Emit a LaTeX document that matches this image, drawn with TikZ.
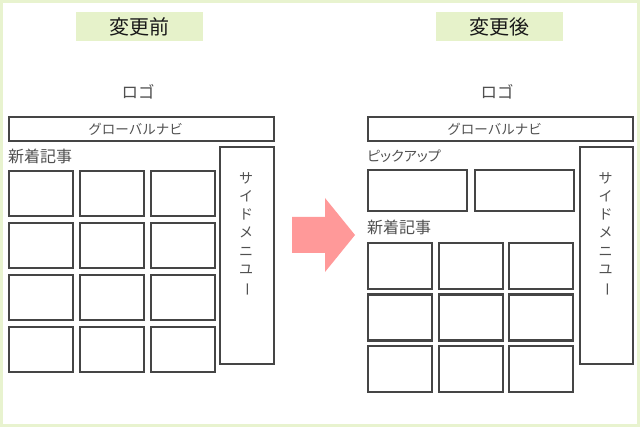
\documentclass[tikz,border=0pt]{standalone}
\usepackage{fontspec}
\usepackage{graphicx}
\newfontfamily\jpfont{Noto Sans CJK JP}
\definecolor{framegreen}{HTML}{E8F3CF}
\definecolor{titlegreen}{HTML}{E6F2CA}
\definecolor{linegray}{HTML}{454545}
\definecolor{textgray}{HTML}{505050}
\definecolor{arrowpink}{HTML}{FF9999}
\tikzset{
  card/.style={draw=linegray, line width=2.2pt, anchor=north west, inner sep=0pt},
  title/.style={fill=titlegreen, minimum width=127pt, minimum height=29pt, font=\jpfont\fontsize{20}{22}\selectfont, text=black!90},
  label/.style={font=\jpfont\fontsize{13.5}{16}\selectfont, text=textgray, inner sep=0pt},
}
\newcommand{\sidetext}{サ\\イ\\ド\\メ\\ニ\\ユ\\\rotatebox[origin=c]{-90}{ー}}
\begin{document}
\begin{tikzpicture}[x=1pt, y=-1pt]
            % Frame
            \useasboundingbox (0,0) rectangle (640,427);
            \draw[framegreen, line width=3pt, fill=white] (1.5,1.5) rectangle (638.5,425.5);
            % Titles
            \node[title] (before) at (139.5,26.5) {変更前};
            \node[title] (after) at (499.5,26.5) {変更後};
            % Before
            \node[label, font=\jpfont\fontsize{16.5}{18}\selectfont] (logo-old) at (138,92) {ロゴ};
            \node[card, minimum width=265pt, minimum height=24pt] (nav-old) at (8,116) {};
            \node[label] at ([xshift=-6pt]nav-old.center) {グローバルナビ};
            \node[label, anchor=west, font=\jpfont\fontsize{16}{18}\selectfont] (news-old) at (8,156) {新着記事};
            \foreach \c in {0,1,2} {
                \foreach \r in {0,1,2,3} {
                    \node[card, minimum width=64pt, minimum height=45pt] (old-\c\r) at ({8+71*\c},{170+52*\r}) {};
                }
            }
            \node[card, minimum width=54pt, minimum height=217pt] (side-old) at (219,146) {};
            \node[label, anchor=north, align=center, font=\jpfont\fontsize{14}{18.3}\selectfont] at (246,172) {\sidetext};
            % Arrow
            \fill[arrowpink] (292,217) -- (325,217) -- (325,198) -- (355,235)
                -- (325,272) -- (325,253) -- (292,253) -- cycle;
            % After
            \node[label, font=\jpfont\fontsize{16.5}{18}\selectfont] (logo-new) at (497,92) {ロゴ};
            \node[card, minimum width=265pt, minimum height=24pt] (nav-new) at (367,116) {};
            \node[label] at ([xshift=-6pt]nav-new.center) {グローバルナビ};
            \node[label, anchor=west, font=\jpfont\fontsize{14}{16}\selectfont\addfontfeature{RawFeature=+palt}] (pick) at (367,156) {ピックアップ};
            \foreach \c in {0,1} {
                \node[card, minimum width=99pt, minimum height=41pt] (pick-\c) at ({367+107*\c},169) {};
            }
            \node[label, anchor=west, font=\jpfont\fontsize{16}{18}\selectfont] (news-new) at (367,227) {新着記事};
            \foreach \c in {0,1,2} {
                \foreach \r in {0,1,2} {
                    \node[card, minimum width=64pt, minimum height=46pt] (new-\c\r) at ({367+70.5*\c},{242+51.5*\r}) {};
                }
            }
            \node[card, minimum width=53pt, minimum height=217pt] (side-new) at (579,146) {};
            \node[label, anchor=north, align=center, font=\jpfont\fontsize{14}{18.3}\selectfont] at (605.5,172) {\sidetext};
        \end{tikzpicture}
\end{document}
